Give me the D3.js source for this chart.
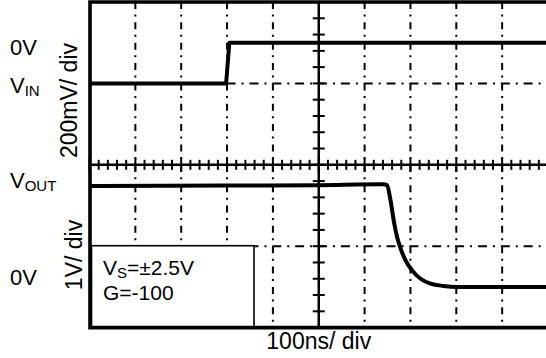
<!DOCTYPE html>
<html>
<head>
<meta charset="utf-8">
<script src="https://cdn.jsdelivr.net/npm/d3@7"></script>
<style>
  html, body { margin: 0; padding: 0; background: #fff; }
  svg { display: block; }
  text { font-family: "Liberation Sans", Arial, Helvetica, sans-serif; fill: #000; }
</style>
</head>
<body>
<svg id="scope" width="546" height="358"></svg>
<script>
// Time axis: 10 divisions of 100 ns
const timeDomain = [0, 1000];
const nsPerDiv = 100;
// Input channel: 200 mV/div, 0 V reference 1.5 div above centre
const vinPerDiv = 200;      // mV
const vinZeroDiv = 1.5;
// Output channel: 1 V/div, 0 V reference 1.5 div below centre
const voutPerDiv = 1;       // V
const voutZeroDiv = -1.5;

// Input step (time ns, mV)
const vinTime  = [0, 298, 305, 1000];
const vinValue = [-100, -100, 0, 0];

// Output response (time ns, V)
const voutTime  = [0, 300, 500, 640, 649, 656, 664, 671, 678, 689, 704, 722, 744, 772, 802, 1000];
const voutValue = [1.24, 1.245, 1.25, 1.26, 1.25, 1.08, 0.80, 0.61, 0.48, 0.33, 0.20, 0.10, 0.04, 0.012, 0.0, 0.0];

// Labels
const leftLabels = [
  { main: "0V", sub: "" },
  { main: "V", sub: "IN" },
  { main: "V", sub: "OUT" },
  { main: "0V", sub: "" }
];
const scaleLabels = ["200mV/ div", "1V/ div"];
const timeLabel = "100ns/ div";
const legendLines = [
  { main: "V", sub: "S", rest: "=\u00B12.5V" },
  { main: "G=-100", sub: "", rest: "" }
];

const svg = d3.select("#scope");

const plotLeft = 89.5, plotRight = 548, plotTop = 2, plotBottom = 327.6;
const x = d3.scaleLinear().domain(timeDomain).range([plotLeft, plotRight]);
const yDiv = d3.scaleLinear().domain([-2, 2]).range([plotBottom, plotTop]);
const cx = x(500), cy = yDiv(0);

const g = svg.append("g");

// Dash-dot graticule: vertical lines at each time division
const majorTimes = d3.range(100, 1000, nsPerDiv).filter(t => t !== 500);
g.selectAll("line.vgrid").data(majorTimes).join("line")
  .attr("class", "vgrid")
  .attr("x1", d => x(d)).attr("x2", d => x(d))
  .attr("y1", plotTop).attr("y2", plotBottom)
  .attr("stroke", "#000").attr("stroke-width", 2)
  .attr("stroke-dasharray", "7,5.5,2,5.85");

// Dash-dot horizontal lines one division above and below centre
g.selectAll("line.hgrid").data([1, -1]).join("line")
  .attr("class", "hgrid")
  .attr("x1", plotLeft).attr("x2", plotRight)
  .attr("y1", d => yDiv(d)).attr("y2", d => yDiv(d))
  .attr("stroke", "#000").attr("stroke-width", 2)
  .attr("stroke-dasharray", "9,6,2,5.85");

// Centre axes with minor ticks (5 per division)
g.append("line").attr("x1", plotLeft).attr("x2", plotRight).attr("y1", cy).attr("y2", cy)
  .attr("stroke", "#000").attr("stroke-width", 2.5);
g.append("line").attr("x1", cx).attr("x2", cx).attr("y1", plotTop).attr("y2", plotBottom)
  .attr("stroke", "#000").attr("stroke-width", 2.5);

const hTicks = d3.range(0, 1000.1, nsPerDiv / 5);
g.selectAll("line.htick").data(hTicks).join("line")
  .attr("class", "htick")
  .attr("x1", d => x(d)).attr("x2", d => x(d))
  .attr("y1", d => cy - (d % nsPerDiv === 0 ? 7 : 5))
  .attr("y2", d => cy + (d % nsPerDiv === 0 ? 7 : 5))
  .attr("stroke", "#000").attr("stroke-width", 2);

const vTicks = d3.range(-2, 2.01, 0.2).map(d => Math.round(d * 10) / 10);
g.selectAll("line.vtick").data(vTicks).join("line")
  .attr("class", "vtick")
  .attr("x1", cx - 6).attr("x2", cx + 6)
  .attr("y1", d => yDiv(d)).attr("y2", d => yDiv(d))
  .attr("stroke", "#000").attr("stroke-width", 2);

// Traces
const vinY = v => yDiv(vinZeroDiv + v / vinPerDiv);
const voutY = v => yDiv(voutZeroDiv + v / voutPerDiv);

const vinLine = d3.line().x(d => x(d[0])).y(d => vinY(d[1]));
g.append("path")
  .attr("d", vinLine(vinTime.map((t, i) => [t, vinValue[i]])))
  .attr("fill", "none").attr("stroke", "#000").attr("stroke-width", 4)
  .attr("stroke-linejoin", "round");

const voutLine = d3.line().x(d => x(d[0])).y(d => voutY(d[1])).curve(d3.curveMonotoneX);
g.append("path")
  .attr("d", voutLine(voutTime.map((t, i) => [t, voutValue[i]])))
  .attr("fill", "none").attr("stroke", "#000").attr("stroke-width", 4)
  .attr("stroke-linejoin", "round");

// Legend box in the lower-left corner
const box = { x0: plotLeft + 2, x1: 254, y0: yDiv(-1) - 0.5, y1: plotBottom };
g.append("rect")
  .attr("x", box.x0).attr("y", box.y0)
  .attr("width", box.x1 - box.x0).attr("height", box.y1 - box.y0)
  .attr("fill", "#fff").attr("stroke", "#000").attr("stroke-width", 1.6);

const legend = g.append("g");
legendLines.forEach((l, i) => {
  const t = legend.append("text").attr("x", 103).attr("y", 275 + i * 25).attr("font-size", 21);
  t.append("tspan").text(l.main);
  if (l.sub) t.append("tspan").attr("font-size", 15).attr("dy", 3).text(l.sub);
  if (l.rest) t.append("tspan").attr("dy", -3).text(l.rest);
});

// Frame: thick left, top and bottom borders
g.append("path")
  .attr("d", `M${plotRight},${plotTop}H${plotLeft + 0.5}V${plotBottom}H${plotRight}`)
  .attr("fill", "none").attr("stroke", "#000").attr("stroke-width", 3.6);

// Channel labels on the left, next to each trace's reference levels
const leftBaselines = [
  vinY(0) + 12,
  vinY(-100) + 9.5,
  voutY(1.25) + 3,
  voutY(0) - 2
];
leftLabels.forEach((l, i) => {
  const t = svg.append("text").attr("x", 10).attr("y", leftBaselines[i]).attr("font-size", 22);
  t.append("tspan").text(l.main);
  if (l.sub) t.append("tspan").attr("font-size", 15).attr("dy", 3).text(l.sub);
});

// Rotated per-division scale labels
const scalePos = [[77, 100.5], [82, 255]];
scaleLabels.forEach((txt, i) => {
  svg.append("text")
    .attr("transform", `translate(${scalePos[i][0]},${scalePos[i][1]}) rotate(-90)`)
    .attr("text-anchor", "middle")
    .attr("font-size", 23)
    .text(txt);
});

// Time base label
svg.append("text").attr("x", cx).attr("y", 349)
  .attr("text-anchor", "middle").attr("font-size", 23)
  .text(timeLabel);
</script>
</body>
</html>
